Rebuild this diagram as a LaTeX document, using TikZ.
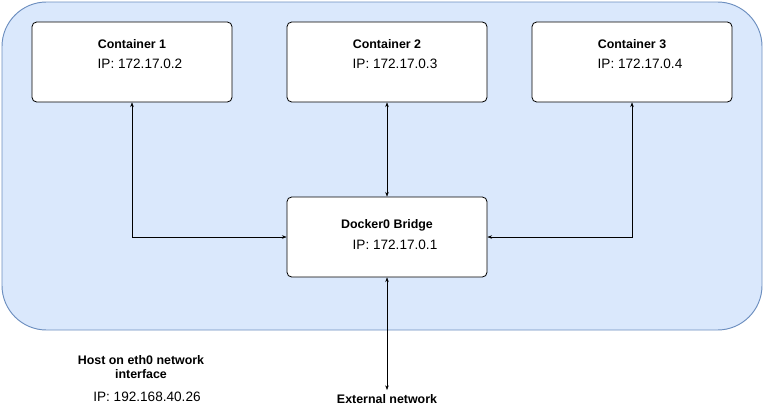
\documentclass[tikz,border=0pt]{standalone}
\usepackage{fontspec}
\setmainfont{Liberation Sans}
\usetikzlibrary{arrows.meta,positioning}
\definecolor{hostfill}{HTML}{DAE8FC}
\definecolor{hostline}{HTML}{6C8EBF}

\begin{document}
\begin{tikzpicture}[x=0.03cm,y=-0.03cm,
    box/.style={draw,line width=0.7pt,fill=white,rounded corners=4pt,minimum width=6cm,minimum height=2.4cm,inner sep=0pt},
    title/.style={font=\fontsize{10.6}{12.5}\selectfont\bfseries},
    ip/.style={font=\fontsize{11.6}{13}\selectfont},
    link/.style={{Stealth[length=4pt]}-{Stealth[length=4pt]},thin}]
    \useasboundingbox (0,0) rectangle (764,417);
    % host network area
    \draw[fill=hostfill,draw=hostline,thick,rounded corners=38pt] (2,2) rectangle (762,330);
    % containers
    \foreach \i/\x/\ipaddr in {1/132/2,2/387/3,3/632/4}{
        \node[box] (c\i) at (\x,62) {};
        \node[title] at (\x,44) {Container \i};
        \node[ip] at (\x+8,64) {IP: 172.17.0.\ipaddr};
    }
    % bridge
    \node[box] (br) at (387,237) {};
    \node[title] at (387,225) {Docker0 Bridge};
    \node[ip] at (395,245) {IP: 172.17.0.1};
    \coordinate (ext) at (387,390);
    % links
    \draw[link] (c1.south) |- (br.west);
    \draw[link] (c2.south) -- (br.north);
    \draw[link] (c3.south) |- (br.east);
    \draw[link] (br.south) -- (ext);
    % labels
    \node[title,below=0pt of ext] (extlbl) {External network};
    \node[title,align=center] (host) at (141,367) {Host on eth0 network\\interface};
    \node[ip] (hostip) at (147,397) {IP: 192.168.40.26};
\end{tikzpicture}
\end{document}
